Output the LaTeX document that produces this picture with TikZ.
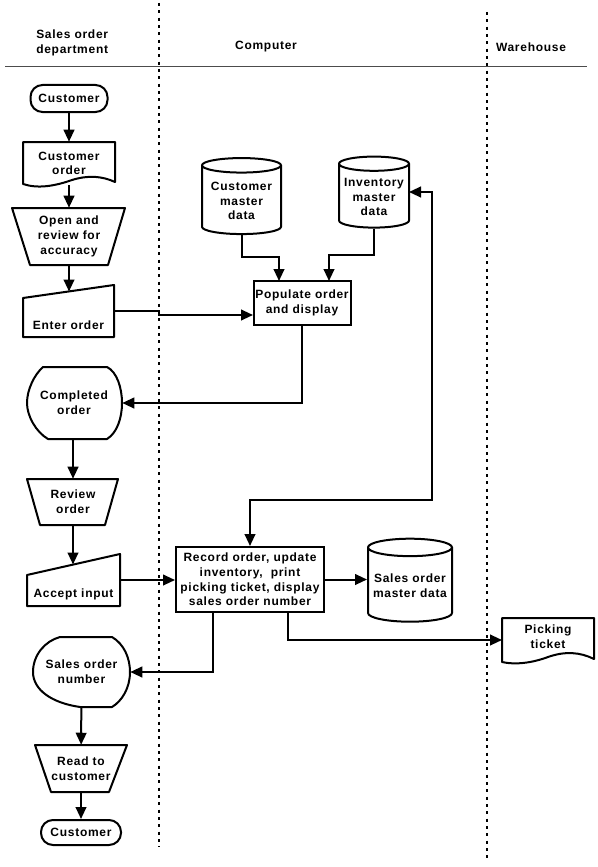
\documentclass[tikz,border=0pt]{standalone}
\usepackage{fontspec}
\setmainfont{Liberation Sans}[LetterSpace=6]
\usepackage{tikz}
\usetikzlibrary{arrows.meta}
\usetikzlibrary{shapes.geometric}

\tikzset{
  lbl/.style={font=\fontsize{9}{11}\selectfont\bfseries, align=center, inner sep=0.75pt},
  term/.style={lbl, draw, line width=1.5pt, rounded corners=9pt},
  proc/.style={lbl, draw, line width=1.5pt},
  dbase/.style={lbl, draw, line width=1.5pt, cylinder, shape border rotate=90, aspect=0.23},
  outl/.style={line width=1.5pt, line join=round},
  flow/.style={line width=1.5pt, -{Triangle[length=9pt,width=8pt]}},
  flowboth/.style={line width=1.5pt, {Triangle[length=9pt,width=8pt]}-{Triangle[length=9pt,width=8pt]}},
  lane/.style={line width=1.5pt, dash pattern=on 2.25pt off 3.25pt},
}

\begin{document}
\begin{tikzpicture}[x=0.75pt,y=0.75pt,yscale=-1,xscale=1]
	\useasboundingbox (0,0) rectangle (598,867);

	%Straight Lines [id:header]
	\draw [black!70, line width=0.75pt] (5,67) -- (587,67) ;
	%Straight Lines [id:lane1]
	\draw [lane] (159,3) -- (159,847) ;
	%Straight Lines [id:lane2]
	\draw [lane] (487,12) -- (487,862) ;

	% Text Node
	\draw (35,43) node [lbl, anchor=west, align=left] (hdsales) {Sales order\\department};
	% Text Node
	\draw (266,47) node [lbl] (hdcomp) {Computer};
	% Text Node
	\draw (531,47) node [lbl] (hdware) {Warehouse};

	%Shape: Terminator
	\node [term, minimum width=57.75pt, minimum height=20.25pt] (custtop) at (69,98.5) {Customer};

	%Shape: Document
	\draw [outl] (23,142) -- (115,142) -- (115,182) .. controls (102,176) and (88,175) .. (72,180) .. controls (55,186) and (38,189) .. (23,184) -- cycle ;
	\node [lbl, minimum width=69pt, minimum height=32.25pt] (custorder) at (69,163.5) {Customer\\order};

	%Shape: Manual operation
	\draw [outl] (12,208) -- (125,208) -- (108,265) -- (30,265) -- cycle ;
	\node [lbl, minimum width=84.75pt, minimum height=42.75pt] (openrev) at (69,236.5) {Open and\\review for\\accuracy};

	%Shape: Manual input
	\draw [outl] (23,298) -- (114,285) -- (114,337) -- (23,337) -- cycle ;
	\node [lbl, minimum width=68.25pt, minimum height=39pt] (enterord) at (68.5,311) {};
	\node [lbl] (entertxt) at (68.5,325) {Enter order};
	\coordinate (entin) at (69,291.5);

	%Shape: Process
	\node [proc, minimum width=72.75pt, minimum height=33pt] (popord) at (302,303) {Populate order\\and display};
	\coordinate (popin1) at (279,281);
	\coordinate (popin2) at (329,281);
	\coordinate (popin3) at (253,315);

	%Shape: Databases
	\node [dbase, minimum width=59.25pt, minimum height=57pt] (custmd) at (241.5,201) {Customer\\master\\data};
	\node [dbase, minimum width=52.5pt, minimum height=53.25pt] (invmd) at (374,197) {Inventory\\master\\data};
	\coordinate (invin) at (409,192);

	%Shape: Display
	\draw [outl] (43,367) -- (107,367) .. controls (117,372) and (122,388) .. (122,403) .. controls (122,418) and (117,433) .. (107,439) -- (48,439) .. controls (36,432) and (27,416) .. (27,403) .. controls (27,390) and (34,375) .. (43,367) -- cycle ;
	\node [lbl, minimum width=72pt, minimum height=54pt] (compord) at (74,403) {Completed\\order};

	%Shape: Manual operation
	\draw [outl] (27,479) -- (118,479) -- (105,525) -- (40,525) -- cycle ;
	\node [lbl, minimum width=68.25pt, minimum height=34.5pt] (revord) at (73,502) {Review\\order};

	%Shape: Manual input
	\draw [outl] (27,575) -- (120,554) -- (120,606) -- (27,606) -- cycle ;
	\node [lbl, minimum width=69.75pt, minimum height=39pt] (acceptin) at (73.5,580) {};
	\node [lbl] (accepttxt) at (73.5,594) {Accept input};
	\coordinate (accin) at (73,564.5);

	%Shape: Process
	\node [proc, minimum width=111pt, minimum height=48.75pt] (recorder) at (250,579.5) {Record order, update\\inventory,\ \ print\\picking ticket, display\\sales order number};
	\coordinate (recout1) at (213,612);
	\coordinate (recout2) at (288,612);
	\coordinate (bendr) at (432,500);

	%Shape: Database
	\node [dbase, minimum width=63pt, minimum height=62.25pt] (salesmd) at (410,586) {Sales order\\master data};

	%Shape: Document
	\draw [outl] (502,618) -- (594,618) -- (594,659) .. controls (580,652) and (565,651) .. (548,657) .. controls (532,663) and (515,665) .. (502,662) -- cycle ;
	\node [lbl, minimum width=69pt, minimum height=28.5pt] (pickticket) at (548,637) {Picking\\ticket};
	\coordinate (pickin) at (502,640);

	%Shape: Display
	\draw [outl] (60,637) -- (112,637) .. controls (124,644) and (130,658) .. (130,672) .. controls (130,688) and (122,701) .. (112,707) -- (80,707) .. controls (52,703) and (33,690) .. (33,672) .. controls (33,655) and (45,641) .. (60,637) -- cycle ;
	\node [lbl, minimum width=72.75pt, minimum height=52.5pt] (salesno) at (81.5,672) {Sales order\\number};

	%Shape: Manual operation
	\draw [outl] (35,745) -- (127,745) -- (109,792) -- (51,792) -- cycle ;
	\node [lbl, minimum width=69pt, minimum height=35.25pt] (readcust) at (81,768.5) {Read to\\customer};

	%Shape: Terminator
	\node [term, minimum width=60pt, minimum height=18.75pt] (custbot) at (81,832.5) {Customer};

	%Connectors
	\draw [flow] (custtop) -- (custorder) ;
	\draw [flow] (custorder) -- (openrev) ;
	\draw [flow] (openrev) -- (entin) ;
	\draw [flow] (enterord.east) -| (159,315) -- (popin3) ;
	\draw [flow] (custmd.south) -- ++(0,22) -| (popin1) ;
	\draw [flow] (invmd.south) -- ++(0,26) -| (popin2) ;
	\draw [flow] (popord.south) |- (compord.east) ;
	\draw [flow] (compord.south -| revord.north) -- (revord.north) ;
	\draw [flow] (revord) -- (accin) ;
	\draw [flow] (acceptin.east) -- (acceptin.east -| recorder.west) ;
	\draw [flow] (recorder) -- (recorder -| salesmd.west) ;
	\draw [flow] (recout2) |- (pickin) ;
	\draw [flow] (recout1) |- (salesno.east) ;
	\draw [flow] (salesno) -- (readcust) ;
	\draw [flow] (readcust) -- (custbot) ;
	\draw [flowboth] (invin) -| (bendr) -| (recorder.north) ;

\end{tikzpicture}
\end{document}
